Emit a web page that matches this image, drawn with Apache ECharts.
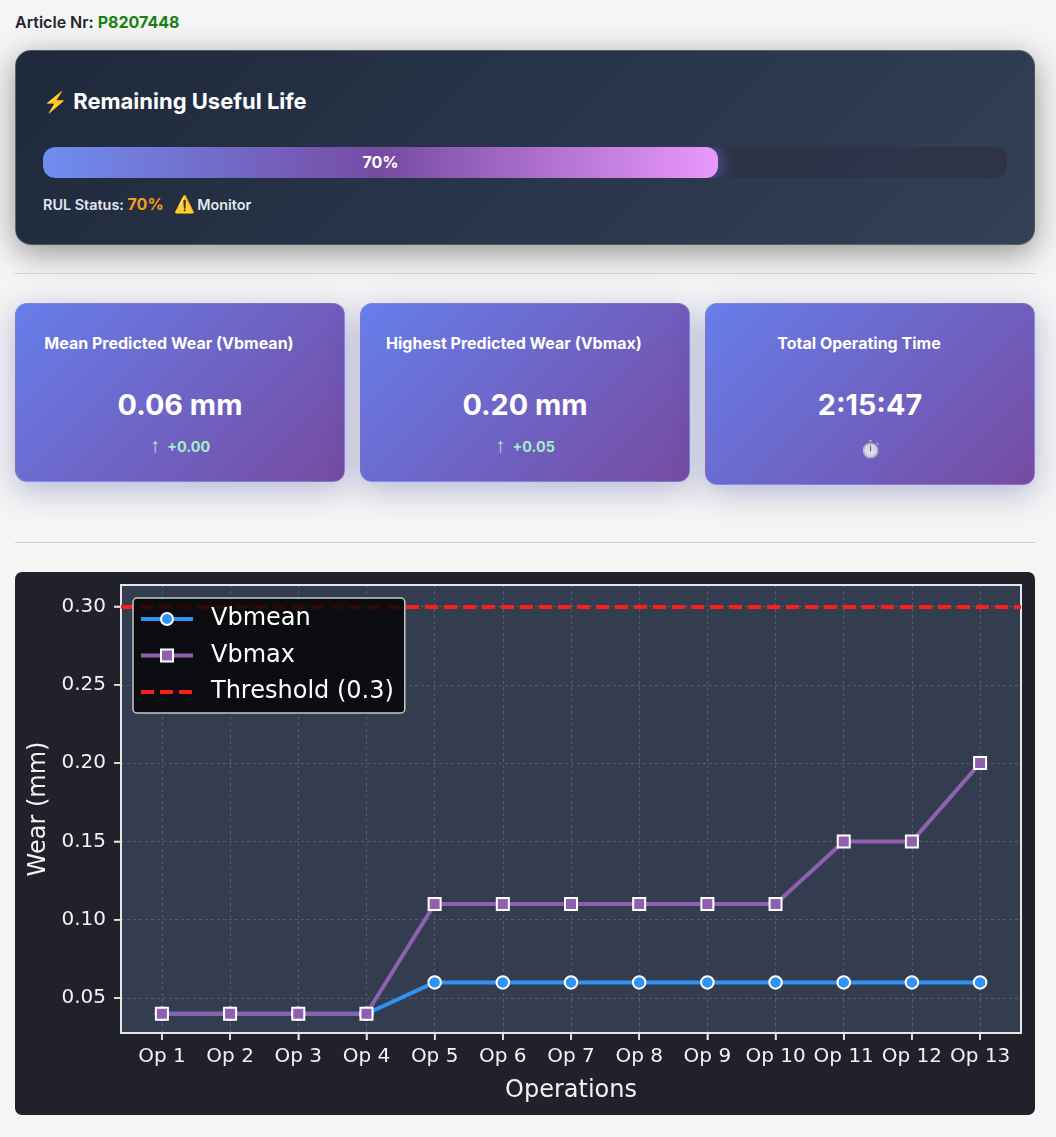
<!DOCTYPE html>
<html>
<head>
<meta charset="utf-8">
<script src="https://cdn.jsdelivr.net/npm/echarts@6/dist/echarts.min.js"></script>
<style>
  html, body { margin: 0; padding: 0; background: #f5f5f5; font-family: Inter, sans-serif; }
  body { position: relative; width: 1056px; height: 1137px; overflow: hidden; }
  .abs { position: absolute; }
  .article { left: 15px; top: 12px; font-size: 16px; font-weight: 600; color: #1f2430; line-height: 20px; white-space: nowrap; }
  .article b { color: #1a7f14; font-weight: 700; }
  .rul { left: 15px; top: 50px; width: 1018px; height: 193px; border: 1px solid rgba(255,255,255,.2); border-radius: 16px;
         background: linear-gradient(135deg, #1e293b, #334155); box-shadow: 0 8px 32px rgba(0,0,0,.4); }
  .rul h3 { position: absolute; left: 27px; top: 36px; margin: 0; font-size: 22px; line-height: 28px; font-weight: 700; color: #fff; white-space: nowrap; }
  .rul h3 span { font-size: 20px; }
  .track { left: 27px; top: 96px; width: 964px; height: 31px; border-radius: 12px; background: rgba(45,48,70,.75); overflow: hidden; }
  .fill { left: 0; top: 0; width: 675px; height: 31px; border-radius: 12px; text-align: center; color: #fff; font-size: 16px; font-weight: 700; line-height: 31px;
          background: linear-gradient(90deg, #6f8df0 0%, #764ba2 50%, #ea98fb 100%); box-shadow: 0 0 20px rgba(102,126,234,.7); }
  .status { left: 27px; top: 143px; color: #e2e8f0; font-size: 14.4px; font-weight: 600; line-height: 20px; white-space: nowrap; }
  .status b { color: #f59e1b; font-size: 16px; font-weight: 700; }
  .status i { font-style: normal; font-size: 17px; margin-left: 10px; margin-right: -1px; }
  .rule { left: 15px; width: 1020px; height: 1px; background: #cfcfcf; }
  .card { top: 303px; width: 328px; height: 177px; border: 1px solid rgba(255,255,255,.16); border-radius: 12px; color: #fff; text-align: center;
          background: linear-gradient(135deg, #667eea, #764ba2); box-shadow: 0 8px 32px rgba(31,38,135,.3); }
  .card .t { position: absolute; left: 0; width: 306px; top: 29px; font-size: 16px; font-weight: 650; line-height: 20px; white-space: nowrap; }
  .card .v { position: absolute; left: 0; width: 100%; top: 82px; font-size: 28.8px; font-weight: 700; line-height: 38px; white-space: nowrap; }
  .card .d { position: absolute; left: 0; width: 100%; top: 133px; font-size: 14.4px; font-weight: 700; line-height: 20px; color: #a5eec9; }
  .card .d span { font-family: "Liberation Sans", sans-serif; font-weight: 400; font-size: 20px; line-height: 0; margin-right: 4px; }
  #chart { left: 15px; top: 572px; width: 1020px; height: 543px; border-radius: 7px; background: #20212b; overflow: hidden; }
</style>
</head>
<body>
<div class="abs article">Article Nr: <b>P8207448</b></div>

<div class="abs rul">
  <h3><span>⚡</span> Remaining Useful Life</h3>
  <div class="abs track"><div class="abs fill">70%</div></div>
  <div class="abs status">RUL Status: <b>70%</b><i>⚠️</i> Monitor</div>
</div>
<div class="abs rule" style="top:273px"></div>

<div class="abs card" style="left:15px">
  <div class="t">Mean Predicted Wear (Vbmean)</div>
  <div class="v">0.06 mm</div>
  <div class="d"><span>↑</span> +0.00</div>
</div>
<div class="abs card" style="left:360px">
  <div class="t">Highest Predicted Wear (Vbmax)</div>
  <div class="v">0.20 mm</div>
  <div class="d"><span>↑</span> +0.05</div>
</div>
<div class="abs card" style="left:705px;height:180px">
  <div class="t">Total Operating Time</div>
  <div class="v">2:15:47</div>
  <div class="d" style="font-size:17px;top:135px;opacity:.8">⏱️</div>
</div>
<div class="abs rule" style="top:542px"></div>

<div class="abs" id="chart"></div>

<script>
const operations = ['Op 1', 'Op 2', 'Op 3', 'Op 4', 'Op 5', 'Op 6', 'Op 7', 'Op 8', 'Op 9', 'Op 10', 'Op 11', 'Op 12', 'Op 13'];
const vbmean = [0.04, 0.04, 0.04, 0.04, 0.06, 0.06, 0.06, 0.06, 0.06, 0.06, 0.06, 0.06, 0.06];
const vbmax = [0.04, 0.04, 0.04, 0.04, 0.11, 0.11, 0.11, 0.11, 0.11, 0.11, 0.15, 0.15, 0.20];
const threshold = 0.3;
const wearTicks = [0.05, 0.10, 0.15, 0.20, 0.25, 0.30];

const textColor = '#f2f2f2';
const font = 'DejaVu Sans';
const edgeColor = '#e6e6e6';
const gridLine = { show: true, lineStyle: { color: 'rgba(255,255,255,0.16)', type: [3, 3], width: 1 } };
const opIndexes = operations.map((_, i) => i);
const xMin = -0.6;
const yMin = 0.0277;

// axis ticks do not show on the grid edge here, so they are drawn as small custom marks
const tickSeries = (data, dx, dy) => ({
    type: 'custom', silent: true, clip: false, z: 20, data,
    renderItem: (params, api) => {
        const p = api.coord([api.value(0), api.value(1)]);
        return {
            type: 'line',
            shape: { x1: p[0], y1: p[1], x2: p[0] + dx, y2: p[1] + dy },
            style: { stroke: edgeColor, lineWidth: 1.5 }
        };
    }
});

const chart = echarts.init(document.getElementById('chart'));
chart.setOption({
    animation: false,
    grid: {
        show: true, left: 106, right: 14, top: 13, bottom: 82, outerBoundsMode: 'none',
        backgroundColor: '#343c4f', borderColor: edgeColor, borderWidth: 2
    },
    legend: {
        orient: 'vertical', left: 118, top: 26, z: 30,
        padding: [9, 11, 9, 6], itemGap: 12.5, itemWidth: 52, itemHeight: 15,
        backgroundColor: 'rgba(0,0,0,0.8)', borderColor: '#c8c8c8', borderWidth: 1.5, borderRadius: 4,
        lineStyle: { width: 4 },
        textStyle: { color: '#fff', fontFamily: font, fontSize: 24, padding: [12, 0, 0, 13] },
        data: ['Vbmean', 'Vbmax', 'Threshold (0.3)']
    },
    xAxis: {
        type: 'value', min: xMin, max: 12.6, position: 'bottom',
        name: 'Operations', nameLocation: 'middle', nameGap: 46,
        nameTextStyle: { color: textColor, fontFamily: font, fontSize: 24 },
        axisLine: { show: true, onZero: false, lineStyle: { color: edgeColor, width: 2 } },
        axisTick: { show: true, length: 7, customValues: opIndexes, lineStyle: { color: edgeColor, width: 1.5 } },
        axisLabel: {
            color: textColor, fontFamily: font, fontSize: 20, margin: 14,
            customValues: opIndexes, formatter: v => operations[v]
        },
        splitLine: gridLine
    },
    yAxis: {
        type: 'value', min: yMin, max: 0.3137, position: 'left',
        name: 'Wear (mm)', nameLocation: 'middle', nameGap: 70, nameRotate: 90,
        nameTextStyle: { color: textColor, fontFamily: font, fontSize: 24 },
        axisLine: { show: true, onZero: false, lineStyle: { color: edgeColor, width: 2 } },
        axisTick: { show: true, length: 7, customValues: wearTicks, lineStyle: { color: edgeColor, width: 1.5 } },
        axisLabel: {
            color: textColor, fontFamily: font, fontSize: 20, margin: 15,
            customValues: wearTicks, formatter: v => v.toFixed(2)
        },
        splitLine: gridLine
    },
    series: [
        {
            name: 'Vbmean', type: 'line', symbol: 'circle', symbolSize: 12.5,
            data: vbmean.map((v, i) => [i, v]),
            lineStyle: { color: '#2e93f5', width: 4 },
            itemStyle: { color: '#2e93f5', borderColor: '#fff', borderWidth: 2 }
        },
        {
            name: 'Vbmax', type: 'line', symbol: 'rect', symbolSize: 12,
            data: vbmax.map((v, i) => [i, v]),
            lineStyle: { color: '#8f5fb0', width: 4 },
            itemStyle: { color: '#8f5fb0', borderColor: '#fff', borderWidth: 2 }
        },
        {
            name: 'Threshold (0.3)', type: 'line', symbol: 'none', data: [],
            lineStyle: { color: '#f91f1f', width: 4, type: [13, 6] },
            itemStyle: { color: 'transparent' },
            markLine: {
                silent: true, symbol: 'none', label: { show: false },
                lineStyle: { color: '#f91f1f', width: 4, type: [13, 6] },
                data: [{ yAxis: threshold }]
            }
        },
        tickSeries(wearTicks.map(v => [xMin, v]), -7, 0),
        tickSeries(opIndexes.map(v => [v, yMin]), 0, 7)
    ]
});
</script>
</body>
</html>
